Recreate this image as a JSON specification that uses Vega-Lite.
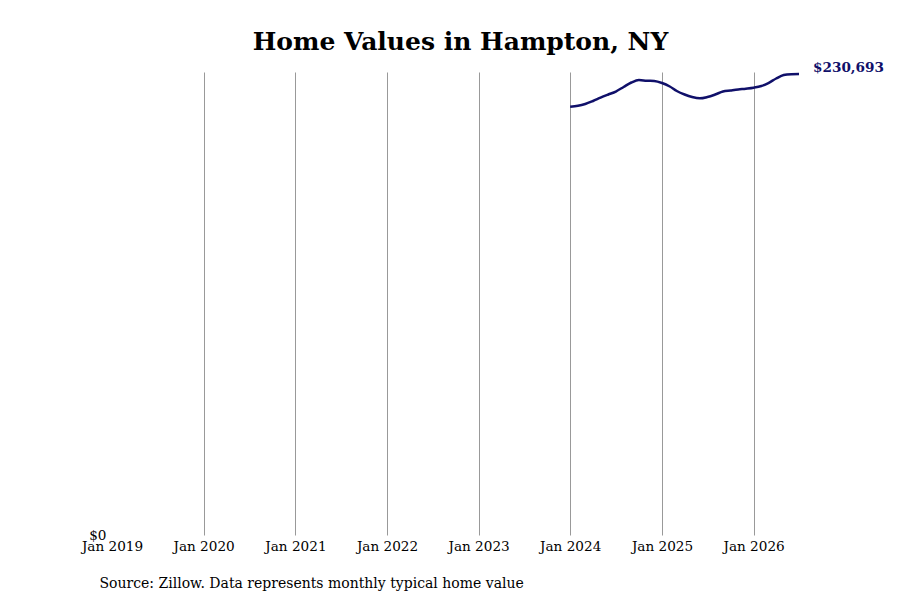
{
  "$schema": "https://vega.github.io/schema/vega-lite/v6.json",
  "description": "Home values in Hampton, NY (Zillow typical home value, monthly).",
  "autosize": {"type": "none"},
  "padding": {"left": 112, "top": 72, "right": 101, "bottom": 65},
  "width": 687,
  "height": 463,
  "background": "white",
  "title": {
    "text": "Home Values in Hampton, NY",
    "font": "DejaVu Serif",
    "fontSize": 25,
    "fontWeight": "bold",
    "color": "black",
    "anchor": "middle",
    "dx": 5,
    "offset": 6
  },
  "config": {"view": {"stroke": null}},
  "data": {
    "values": [
      {"date": "2024-01-01", "value": 214330},
      {"date": "2024-02-01", "value": 214780},
      {"date": "2024-03-01", "value": 215680},
      {"date": "2024-04-01", "value": 217180},
      {"date": "2024-05-01", "value": 218830},
      {"date": "2024-06-01", "value": 220430},
      {"date": "2024-07-01", "value": 221940},
      {"date": "2024-08-01", "value": 224190},
      {"date": "2024-09-01", "value": 226440},
      {"date": "2024-10-01", "value": 227690},
      {"date": "2024-11-01", "value": 227340},
      {"date": "2024-12-01", "value": 227190},
      {"date": "2025-01-01", "value": 226190},
      {"date": "2025-02-01", "value": 224440},
      {"date": "2025-03-01", "value": 222190},
      {"date": "2025-04-01", "value": 220430},
      {"date": "2025-05-01", "value": 219180},
      {"date": "2025-06-01", "value": 218530},
      {"date": "2025-07-01", "value": 219180},
      {"date": "2025-08-01", "value": 220430},
      {"date": "2025-09-01", "value": 221940},
      {"date": "2025-10-01", "value": 222440},
      {"date": "2025-11-01", "value": 222940},
      {"date": "2025-12-01", "value": 223340},
      {"date": "2026-01-01", "value": 223840},
      {"date": "2026-02-01", "value": 224690},
      {"date": "2026-03-01", "value": 226190},
      {"date": "2026-04-01", "value": 228440},
      {"date": "2026-05-01", "value": 230190},
      {"date": "2026-06-01", "value": 230600},
      {"date": "2026-07-01", "value": 230693}
    ]
  },
  "encoding": {
    "x": {
      "field": "date",
      "type": "temporal",
      "scale": {"type": "utc", "domain": [{"year": 2019, "month": 1, "date": 1, "utc": true}, {"year": 2026, "month": 7, "date": 1, "utc": true}], "nice": false},
      "axis": {
        "values": [
          {"year": 2019, "month": 1, "date": 1, "utc": true},
          {"year": 2020, "month": 1, "date": 1, "utc": true},
          {"year": 2021, "month": 1, "date": 1, "utc": true},
          {"year": 2022, "month": 1, "date": 1, "utc": true},
          {"year": 2023, "month": 1, "date": 1, "utc": true},
          {"year": 2024, "month": 1, "date": 1, "utc": true},
          {"year": 2025, "month": 1, "date": 1, "utc": true},
          {"year": 2026, "month": 1, "date": 1, "utc": true}
        ],
        "labelExpr": "utcFormat(datum.value, '%b %Y')",
        "labelFont": "DejaVu Serif",
        "labelFontSize": 13.6,
        "labelColor": "black",
        "labelPadding": 4,
        "labelFlush": false,
        "ticks": false,
        "domain": false,
        "grid": true,
        "gridColor": {"condition": {"test": "utcyear(datum.value) == 2019", "value": "transparent"}, "value": "#999999"},
        "gridWidth": 1,
        "title": "Source: Zillow. Data represents monthly typical home value",
        "titleFont": "DejaVu Serif",
        "titleFontSize": 14,
        "titleFontWeight": "normal",
        "titleColor": "black",
        "titleAlign": "left",
        "titleAnchor": "start",
        "titleBaseline": "alphabetic",
        "titleX": -13,
        "titleY": 52
      }
    },
    "y": {
      "field": "value",
      "type": "quantitative",
      "scale": {"domain": [0, 231700], "nice": false},
      "axis": {
        "values": [0],
        "format": "$,.0f",
        "labelFont": "DejaVu Serif",
        "labelFontSize": 13.6,
        "labelColor": "black",
        "labelPadding": 6,
        "ticks": false,
        "domain": false,
        "grid": false,
        "title": null
      }
    }
  },
  "layer": [
    {
      "mark": {"type": "line", "color": "#10106a", "strokeWidth": 2.5, "interpolate": "monotone"}
    },
    {
      "transform": [{"filter": "datum.value == 230693"}],
      "mark": {"type": "text", "align": "left", "baseline": "middle", "dx": 14, "dy": -6, "font": "DejaVu Serif", "fontSize": 13.6, "fontWeight": "bold", "color": "#10106a"},
      "encoding": {"text": {"field": "value", "type": "quantitative", "format": "$,.0f"}}
    }
  ]
}
